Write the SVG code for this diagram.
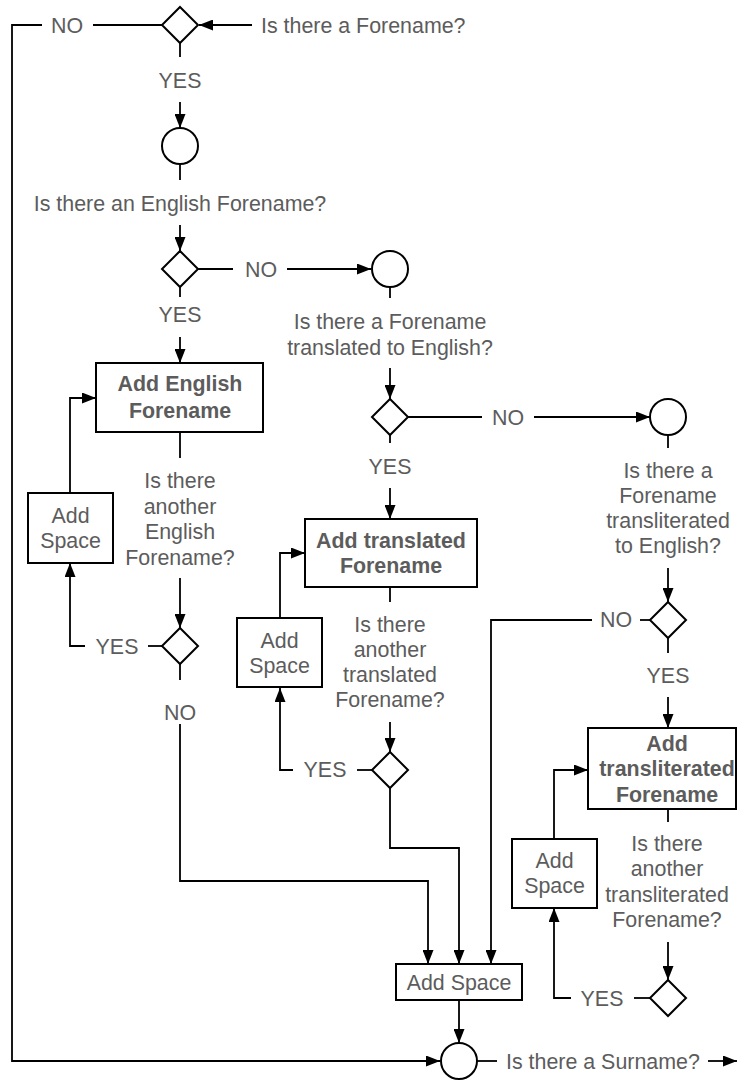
<svg xmlns="http://www.w3.org/2000/svg" width="738" height="1080" viewBox="0 0 738 1080">
<style>
.s{fill:#fff;stroke:#000;stroke-width:2}
.c{fill:none;stroke:#000;stroke-width:1.8}
.a{marker-end:url(#ar)}
text{font-family:"Liberation Sans",Arial,sans-serif;font-size:21.4px;fill:#5c5c5c;text-anchor:middle}
.b{font-weight:bold}
.st{text-anchor:start}
</style>
<defs>
<marker id="ar" markerUnits="userSpaceOnUse" markerWidth="14" markerHeight="11" refX="14" refY="5.5" orient="auto">
<path d="M0,0 L14,5.5 L0,11 z" fill="#000"/>
</marker>
</defs>
<rect width="738" height="1080" fill="#fff"/>
<g id="connectors">
<path class="c a" d="M42,25 H12 V1061 H440"/>
<path class="c" d="M93,25 H162"/>
<path class="c a" d="M252,25 H199"/>
<path class="c" d="M180,43 V57"/>
<path class="c a" d="M180,102 V128"/>
<path class="c" d="M180,164 V180"/>
<path class="c a" d="M180,225 V251"/>
<path class="c" d="M198,269 H233"/>
<path class="c a" d="M287,269 H371"/>
<path class="c" d="M180,287 V297"/>
<path class="c a" d="M180,337 V363"/>
<path class="c" d="M180,432 V458"/>
<path class="c a" d="M180,578 V628"/>
<path class="c" d="M162,646 H148"/>
<path class="c a" d="M85,646 H70 V563"/>
<path class="c a" d="M70,493 V398 H96"/>
<path class="c" d="M180,664 V680"/>
<path class="c a" d="M180,724 V881 H428 V964"/>
<path class="c" d="M390,287 V298"/>
<path class="c a" d="M390,368 V399"/>
<path class="c" d="M408,417 H482"/>
<path class="c a" d="M534,417 H650"/>
<path class="c" d="M390,435 V443"/>
<path class="c a" d="M390,488 V519"/>
<path class="c" d="M390,587 V602"/>
<path class="c a" d="M390,722 V752"/>
<path class="c" d="M372,770 H357"/>
<path class="c a" d="M293,770 H280 V688"/>
<path class="c a" d="M280,618 V553 H305"/>
<path class="c a" d="M390,788 V848 H459 V964"/>
<path class="c" d="M668,435 V448"/>
<path class="c a" d="M668,568 V602"/>
<path class="c" d="M650,620 H640"/>
<path class="c a" d="M592,620 H491 V964"/>
<path class="c" d="M668,638 V653"/>
<path class="c a" d="M668,697 V728"/>
<path class="c" d="M668,809 V822"/>
<path class="c a" d="M668,942 V980"/>
<path class="c" d="M650,998 H634"/>
<path class="c a" d="M571,998 H554 V908"/>
<path class="c a" d="M554,839 V770 H588"/>
<path class="c a" d="M459,1000 V1043"/>
<path class="c" d="M477,1061 H497"/>
<path class="c a" d="M708,1061 H737"/>
</g>
<g id="labels">
<text x="67" y="32.5">NO</text>
<text class="st" x="261" y="32.5">Is there a Forename?</text>
<text x="180" y="87.5">YES</text>
<text x="180" y="210.5">Is there an English Forename?</text>
<text x="261" y="276.5">NO</text>
<text x="180" y="321.5">YES</text>
<text x="180" y="487.5">Is there</text>
<text x="180" y="513.5">another</text>
<text x="180" y="538.5">English</text>
<text x="180" y="564.5">Forename?</text>
<text x="117" y="653.5">YES</text>
<text x="180" y="719.5">NO</text>
<text x="390" y="328.5">Is there a Forename</text>
<text x="390" y="354.5">translated to English?</text>
<text x="508" y="424.5">NO</text>
<text x="390" y="473.5">YES</text>
<text x="390" y="631.5">Is there</text>
<text x="390" y="656.5">another</text>
<text x="390" y="681.5">translated</text>
<text x="390" y="706.5">Forename?</text>
<text x="325" y="776.5">YES</text>
<text x="668" y="477.5">Is there a</text>
<text x="668" y="502.5">Forename</text>
<text x="668" y="527.5">transliterated</text>
<text x="668" y="552.5">to English?</text>
<text x="616" y="626.5">NO</text>
<text x="668" y="682.5">YES</text>
<text x="667" y="850.5">Is there</text>
<text x="667" y="876">another</text>
<text x="667" y="901.5">transliterated</text>
<text x="667" y="926.5">Forename?</text>
<text x="602" y="1005.5">YES</text>
<text class="st" x="506" y="1068.5">Is there a Surname?</text>
</g>
<g id="d1"><path class="s" d="M180,7 L198,25 L180,43 L162,25 z"/></g>
<g id="c1"><circle class="s" cx="180" cy="146" r="18"/></g>
<g id="d2"><path class="s" d="M180,251 L198,269 L180,287 L162,269 z"/></g>
<g id="c2"><circle class="s" cx="390" cy="269" r="18"/></g>
<g id="b1">
<rect class="s" x="96" y="363" width="167" height="69"/>
<text class="b" x="180" y="390.5">Add English</text>
<text class="b" x="180" y="417.5">Forename</text>
</g>
<g id="sp1">
<rect class="s" x="28" y="493" width="85" height="70"/>
<text x="70.5" y="522.5">Add</text>
<text x="70.5" y="547.5">Space</text>
</g>
<g id="d3"><path class="s" d="M180,628 L198,646 L180,664 L162,646 z"/></g>
<g id="d4"><path class="s" d="M390,399 L408,417 L390,435 L372,417 z"/></g>
<g id="c3"><circle class="s" cx="668" cy="417" r="18"/></g>
<g id="b2">
<rect class="s" x="305" y="519" width="172" height="68"/>
<text class="b" x="391" y="547.5">Add translated</text>
<text class="b" x="391" y="572.5">Forename</text>
</g>
<g id="sp2">
<rect class="s" x="237" y="618" width="85" height="69"/>
<text x="279.5" y="647.5">Add</text>
<text x="279.5" y="672.5">Space</text>
</g>
<g id="d5"><path class="s" d="M390,752 L408,770 L390,788 L372,770 z"/></g>
<g id="d6"><path class="s" d="M668,602 L686,620 L668,638 L650,620 z"/></g>
<g id="b3">
<rect class="s" x="588" y="728" width="148" height="81"/>
<text class="b" x="667" y="750.5">Add</text>
<text class="b" x="667" y="775.5">transliterated</text>
<text class="b" x="667" y="801.5">Forename</text>
</g>
<g id="sp3">
<rect class="s" x="512" y="839" width="85" height="69"/>
<text x="554.5" y="867.5">Add</text>
<text x="554.5" y="892.5">Space</text>
</g>
<g id="d7"><path class="s" d="M668,980 L686,998 L668,1016 L650,998 z"/></g>
<g id="sp4">
<rect class="s" x="396" y="964" width="126" height="36"/>
<text x="459" y="989.5">Add Space</text>
</g>
<g id="c4"><circle class="s" cx="459" cy="1061" r="18"/></g>
</svg>
